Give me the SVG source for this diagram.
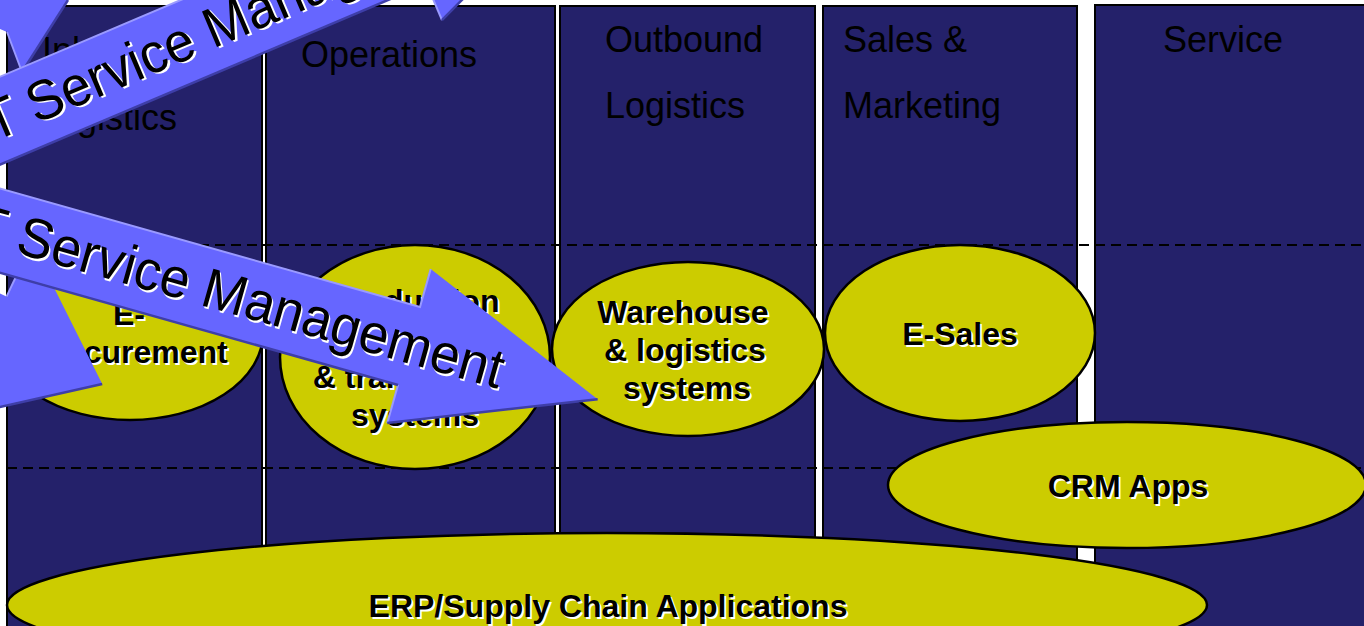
<svg xmlns="http://www.w3.org/2000/svg" width="1364" height="626" viewBox="0 0 1364 626">
<style>
.col{fill:#24216A;stroke:#000;stroke-width:2}
.hdr{font-family:"Liberation Sans",Arial,sans-serif;font-size:36px;fill:#000}
.ell{fill:#CCCC00;stroke:#000;stroke-width:2.5}
.lbl{font-family:"Liberation Sans",Arial,sans-serif;font-size:32px;font-weight:bold;text-anchor:middle}
.sh{fill:#fff}
.fg{fill:#000}
.dash{stroke:#000;stroke-width:2.2;stroke-dasharray:10 6;fill:none}
.arr{fill:#6666FF}
.lt{stroke:#9A9AFF;stroke-width:2;fill:none}
.dk{stroke:#3E3EA8;stroke-width:2.5;fill:none}
.at{font-family:"Liberation Sans",Arial,sans-serif;font-size:56px;text-anchor:end}
</style>
<defs>
<g id="bigArrow">
<polygon class="arr" points="-800,-40.5 0,-40.5 0,-80 196,0 0,80 0,40.5 -800,40.5"/>
<polyline class="lt" points="-800,-40.5 0,-40.5 0,-80"/>
<line class="lt" x1="0" y1="40.5" x2="0" y2="80"/>
<polyline class="dk" points="196,0 0,80"/>
<line class="dk" x1="0" y1="40.5" x2="-800" y2="40.5"/>
</g>
</defs>
<rect width="1364" height="626" fill="#fff"/>
<g id="columns">
<g id="col-inbound">
<rect class="col" x="7" y="6" width="255" height="640"/>
<text class="hdr" x="107" y="63" text-anchor="middle">Inbound</text>
<text class="hdr" x="107" y="130" text-anchor="middle">Logistics</text>
</g>
<g id="col-operations">
<rect class="col" x="266" y="6" width="289" height="640"/>
<text class="hdr" x="301" y="67">Operations</text>
</g>
<g id="col-outbound">
<rect class="col" x="560" y="6" width="255" height="640"/>
<text class="hdr" x="605" y="52">Outbound</text>
<text class="hdr" x="605" y="118">Logistics</text>
</g>
<g id="col-sales">
<rect class="col" x="823" y="6" width="254" height="640"/>
<text class="hdr" x="843" y="52">Sales &amp;</text>
<text class="hdr" x="843" y="118">Marketing</text>
</g>
<g id="col-service">
<rect class="col" x="1095" y="5" width="300" height="640"/>
<text class="hdr" x="1163" y="52">Service</text>
</g>
</g>
<g id="dividers">
<line class="dash" x1="7" y1="245" x2="1364" y2="245"/>
<line class="dash" x1="7" y1="468" x2="1364" y2="468"/>
</g>
<g id="e-procurement">
<ellipse class="ell" cx="130" cy="333" rx="133" ry="87"/>
<text class="lbl sh" x="131" y="327">E-</text><text class="lbl fg" x="129" y="325">E-</text>
<text class="lbl sh" x="131" y="365">Procurement</text><text class="lbl fg" x="129" y="363">Procurement</text>
</g>
<g id="production">
<ellipse class="ell" cx="415" cy="357" rx="135" ry="112"/>
<text class="lbl sh" x="417" y="314">Production</text><text class="lbl fg" x="415" y="312">Production</text>
<text class="lbl sh" x="417" y="390">&amp; transaction</text><text class="lbl fg" x="415" y="388">&amp; transaction</text>
<text class="lbl sh" x="417" y="428">systems</text><text class="lbl fg" x="415" y="426">systems</text>
</g>
<g id="warehouse">
<ellipse class="ell" cx="688" cy="349" rx="136" ry="87"/>
<text class="lbl sh" x="685" y="325">Warehouse</text><text class="lbl fg" x="683" y="323">Warehouse</text>
<text class="lbl sh" x="687" y="363">&amp; logistics</text><text class="lbl fg" x="685" y="361">&amp; logistics</text>
<text class="lbl sh" x="689" y="401">systems</text><text class="lbl fg" x="687" y="399">systems</text>
</g>
<g id="e-sales">
<ellipse class="ell" cx="960" cy="333" rx="135" ry="88"/>
<text class="lbl sh" x="962" y="347">E-Sales</text><text class="lbl fg" x="960" y="345">E-Sales</text>
</g>
<g id="crm">
<ellipse class="ell" cx="1127" cy="485" rx="239" ry="63"/>
<text class="lbl sh" x="1130" y="499">CRM Apps</text><text class="lbl fg" x="1128" y="497">CRM Apps</text>
</g>
<g id="erp">
<ellipse class="ell" cx="607" cy="605" rx="600" ry="72"/>
<text class="lbl sh" x="610" y="619">ERP/Supply Chain Applications</text><text class="lbl fg" x="608" y="617">ERP/Supply Chain Applications</text>
</g>
<g id="connectors">
<g id="arrow-small-top">
<polygon class="arr" points="0,0 68,0 22,72 7,32 0,29"/>
<line class="lt" x1="7" y1="32" x2="22" y2="72"/>
<line class="dk" x1="68" y1="0" x2="22" y2="72"/>
</g>
<g id="arrow-small-left" transform="translate(-9.8,330.9) rotate(25.4)">
<polygon class="arr" points="-400,-38 0,-38 0,-97 124,0 0,97 0,38 -400,38"/>
<line class="lt" x1="0" y1="-38" x2="0" y2="-97"/>
<line class="dk" x1="124" y1="0" x2="0" y2="97"/>
</g>
<g id="arrow-up" transform="translate(410.7,-53.6) rotate(-23)">
<use href="#bigArrow"/>
<g transform="scale(0.95,1)">
<text class="at sh" x="95" y="19">IT Service Management</text>
<text class="at fg" x="93" y="17">IT Service Management</text>
</g>
</g>
<g id="arrow-down" transform="translate(409,346) rotate(15.75)">
<use href="#bigArrow"/>
<g transform="scale(0.95,1)">
<text class="at sh" x="104" y="19">IT Service Management</text>
<text class="at fg" x="102" y="17">IT Service Management</text>
</g>
</g>
</g>
</svg>
